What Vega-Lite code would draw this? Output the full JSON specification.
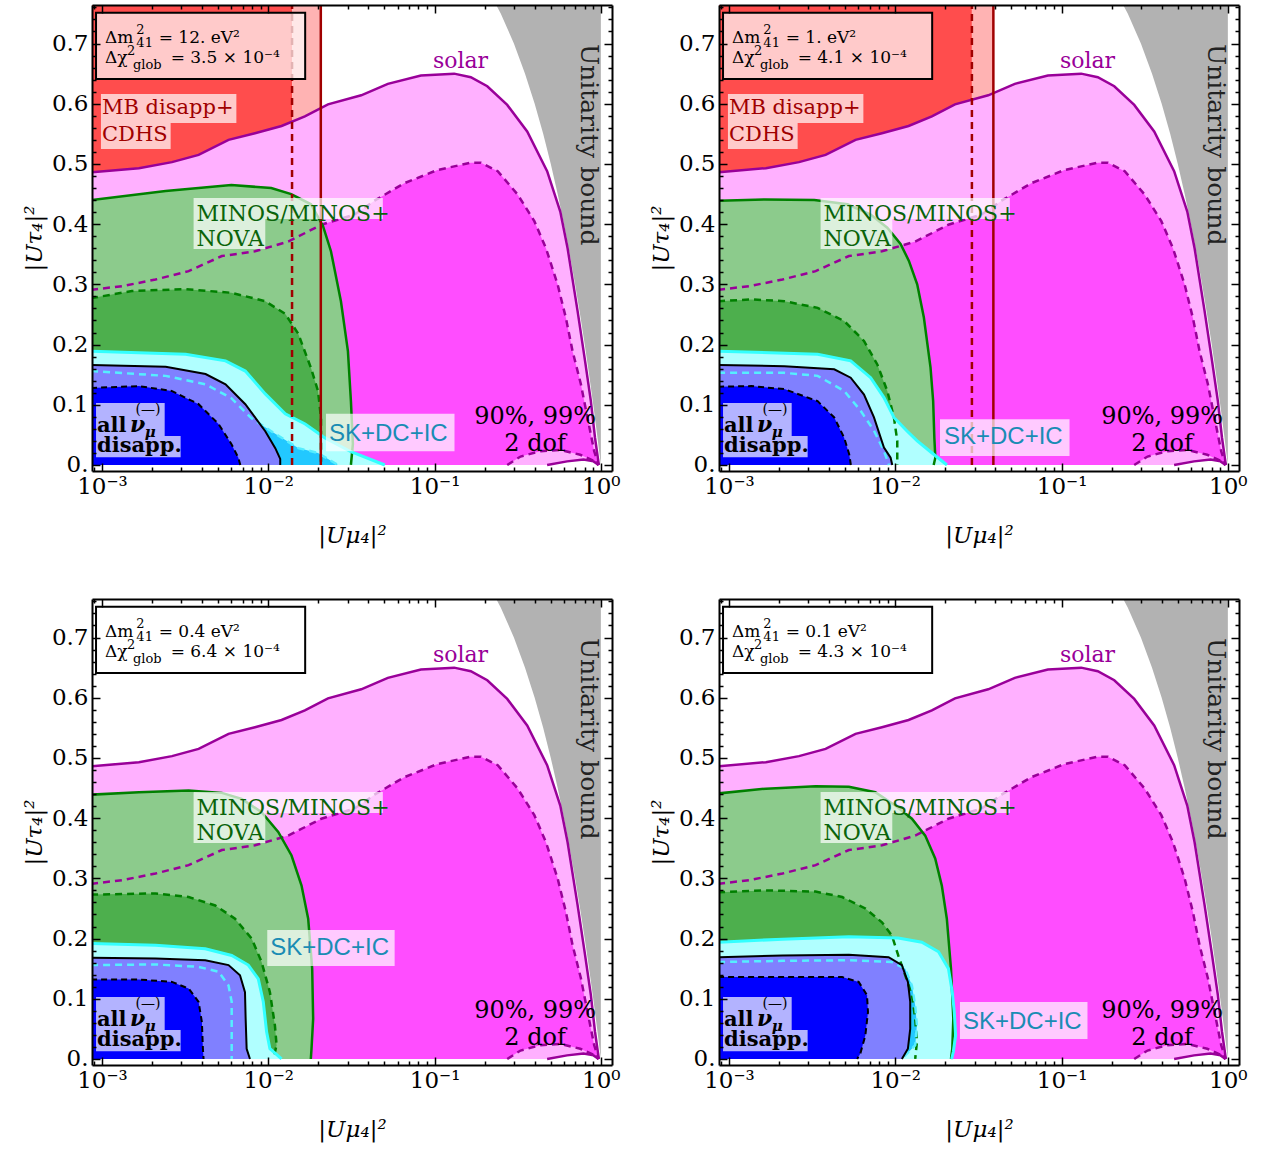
{
"$schema":"https://vega.github.io/schema/vega-lite/v6.json",
"background":"white",
"padding":{"left":23,"top":-5,"right":5,"bottom":5},
"datasets":{"d":[
{"p":[1,2,3,4],"r":"un","x":1,"y":0},{"p":[1,2,3,4],"r":"un","x":0.95,"y":0.05},{"p":[1,2,3,4],"r":"un","x":0.9,"y":0.1},{"p":[1,2,3,4],"r":"un","x":0.85,"y":0.15},{"p":[1,2,3,4],"r":"un","x":0.8,"y":0.2},{"p":[1,2,3,4],"r":"un","x":0.75,"y":0.25},{"p":[1,2,3,4],"r":"un","x":0.7,"y":0.3},{"p":[1,2,3,4],"r":"un","x":0.65,"y":0.35},{"p":[1,2,3,4],"r":"un","x":0.6,"y":0.4},{"p":[1,2,3,4],"r":"un","x":0.55,"y":0.45},{"p":[1,2,3,4],"r":"un","x":0.5,"y":0.5},{"p":[1,2,3,4],"r":"un","x":0.45,"y":0.55},{"p":[1,2,3,4],"r":"un","x":0.4,"y":0.6},{"p":[1,2,3,4],"r":"un","x":0.35,"y":0.65},{"p":[1,2,3,4],"r":"un","x":0.3,"y":0.7},{"p":[1,2,3,4],"r":"un","x":0.25,"y":0.75},{"p":[1,2,3,4],"r":"un","x":0.2,"y":0.8},{"p":[1,2,3,4],"r":"un","x":1,"y":0.8},
{"p":[1,2,3,4],"r":"s99","x":0.00086,"y":0.486},{"p":[1,2,3,4],"r":"s99","x":0.001667,"y":0.493},{"p":[1,2,3,4],"r":"s99","x":0.002636,"y":0.503},{"p":[1,2,3,4],"r":"s99","x":0.003811,"y":0.515},{"p":[1,2,3,4],"r":"s99","x":0.005768,"y":0.54},{"p":[1,2,3,4],"r":"s99","x":0.008318,"y":0.551},{"p":[1,2,3,4],"r":"s99","x":0.01202,"y":0.563},{"p":[1,2,3,4],"r":"s99","x":0.0166,"y":0.579},{"p":[1,2,3,4],"r":"s99","x":0.02286,"y":0.599},{"p":[1,2,3,4],"r":"s99","x":0.03622,"y":0.614},{"p":[1,2,3,4],"r":"s99","x":0.05236,"y":0.633},{"p":[1,2,3,4],"r":"s99","x":0.08279,"y":0.647},{"p":[1,2,3,4],"r":"s99","x":0.1312,"y":0.65},{"p":[1,2,3,4],"r":"s99","x":0.1652,"y":0.644},{"p":[1,2,3,4],"r":"s99","x":0.2075,"y":0.629},{"p":[1,2,3,4],"r":"s99","x":0.2735,"y":0.598},{"p":[1,2,3,4],"r":"s99","x":0.3606,"y":0.554},{"p":[1,2,3,4],"r":"s99","x":0.4753,"y":0.488},{"p":[1,2,3,4],"r":"s99","x":0.5702,"y":0.421},{"p":[1,2,3,4],"r":"s99","x":0.631,"y":0.36},{"p":[1,2,3,4],"r":"s99","x":0.7244,"y":0.256},{"p":[1,2,3,4],"r":"s99","x":0.8035,"y":0.173},{"p":[1,2,3,4],"r":"s99","x":0.871,"y":0.106},{"p":[1,2,3,4],"r":"s99","x":0.9226,"y":0.045},{"p":[1,2,3,4],"r":"s99","x":0.9727,"y":0},{"p":[1,2,3,4],"r":"s99","x":0.0008,"y":0},
{"p":[1,2,3,4],"r":"s90","x":0.00086,"y":0.291},{"p":[1,2,3,4],"r":"s90","x":0.001324,"y":0.297},{"p":[1,2,3,4],"r":"s90","x":0.002099,"y":0.308},{"p":[1,2,3,4],"r":"s90","x":0.003319,"y":0.322},{"p":[1,2,3,4],"r":"s90","x":0.00526,"y":0.347},{"p":[1,2,3,4],"r":"s90","x":0.008318,"y":0.355},{"p":[1,2,3,4],"r":"s90","x":0.01318,"y":0.371},{"p":[1,2,3,4],"r":"s90","x":0.02084,"y":0.399},{"p":[1,2,3,4],"r":"s90","x":0.03304,"y":0.416},{"p":[1,2,3,4],"r":"s90","x":0.04355,"y":0.439},{"p":[1,2,3,4],"r":"s90","x":0.06577,"y":0.468},{"p":[1,2,3,4],"r":"s90","x":0.1042,"y":0.49},{"p":[1,2,3,4],"r":"s90","x":0.1652,"y":0.502},{"p":[1,2,3,4],"r":"s90","x":0.1897,"y":0.502},{"p":[1,2,3,4],"r":"s90","x":0.2399,"y":0.488},{"p":[1,2,3,4],"r":"s90","x":0.3162,"y":0.449},{"p":[1,2,3,4],"r":"s90","x":0.3981,"y":0.405},{"p":[1,2,3,4],"r":"s90","x":0.4677,"y":0.36},{"p":[1,2,3,4],"r":"s90","x":0.5495,"y":0.3},{"p":[1,2,3,4],"r":"s90","x":0.6166,"y":0.244},{"p":[1,2,3,4],"r":"s90","x":0.6761,"y":0.189},{"p":[1,2,3,4],"r":"s90","x":0.7586,"y":0.134},{"p":[1,2,3,4],"r":"s90","x":0.8318,"y":0.078},{"p":[1,2,3,4],"r":"s90","x":0.912,"y":0.023},{"p":[1,2,3,4],"r":"s90","x":0.97,"y":0},{"p":[1,2,3,4],"r":"s90","x":0.0008,"y":0},
{"p":[1,2,3,4],"r":"a90","x":0.2735,"y":0},{"p":[1,2,3,4],"r":"a90","x":0.3289,"y":0.014},{"p":[1,2,3,4],"r":"a90","x":0.4335,"y":0.023},{"p":[1,2,3,4],"r":"a90","x":0.5702,"y":0.025},{"p":[1,2,3,4],"r":"a90","x":0.7516,"y":0.017},{"p":[1,2,3,4],"r":"a90","x":0.9036,"y":0.007},{"p":[1,2,3,4],"r":"a90","x":0.97,"y":0},
{"p":[1,2,3,4],"r":"a99","x":0.4753,"y":0},{"p":[1,2,3,4],"r":"a99","x":0.6266,"y":0.006},{"p":[1,2,3,4],"r":"a99","x":0.787,"y":0.009},{"p":[1,2,3,4],"r":"a99","x":0.9036,"y":0.006},{"p":[1,2,3,4],"r":"a99","x":0.97,"y":0},
{"p":[1,2,3,4],"r":"bg","x":0.003556,"x2":0.04887,"y":0.4086,"y2":0.4435},
{"p":[1,2,3,4],"r":"bg","x":0.003556,"x2":0.009596,"y":0.3588,"y2":0.4086},
{"p":[1,2,3,4],"r":"bg","x":0.000921,"x2":0.002383,"y":0.048,"y2":0.103},
{"p":[1,2,3,4],"r":"bg","x":0.000921,"x2":0.002972,"y":0.013,"y2":0.048},
{"p":[1,2,3,4],"r":"box","x":0.000921,"x2":0.01667,"y":0.641,"y2":0.751},
{"p":[1,2,3,4],"r":"sol","t":"solar","x":0.1432,"y":0.659},
{"p":[1,2,3,4],"r":"uni","t":"Unitarity bound","x":0.847,"y":0.532},
{"p":[1,2,3,4],"r":"cl","t":"90%, 99%","x":0.4027,"y":0.068},
{"p":[1,2,3,4],"r":"cl","t":"2 dof","x":0.4027,"y":0.023},
{"p":[1,2,3,4],"r":"mn","t":"MINOS/MINOS+","x":0.003707,"y":0.405},
{"p":[1,2,3,4],"r":"mn","t":"NOVA","x":0.003707,"y":0.364},
{"p":[1,2,3,4],"r":"ab","t":"all","x":0.000933,"y":0.055},
{"p":[1,2,3,4],"r":"ab","t":"disapp.","x":0.000933,"y":0.022},
{"p":[1,2,3,4],"r":"nu","t":"ν","x":0.001472,"y":0.055},
{"p":[1,2,3,4],"r":"mu","t":"μ","x":0.001807,"y":0.047},
{"p":[1,2,3,4],"r":"br","t":"(—)","x":0.001893,"y":0.084},
{"p":[1,2,3,4],"r":"bx","t":"Δm","x":0.001042,"y":0.701},
{"p":[1,2,3,4],"r":"bx","t":"Δχ","x":0.001042,"y":0.668},
{"p":[1,2,3,4],"r":"bs","t":"2","x":0.00161,"y":0.716},
{"p":[1,2,3,4],"r":"bs","t":"41","x":0.00161,"y":0.694},
{"p":[1,2,3,4],"r":"bs","t":"2","x":0.001413,"y":0.681},
{"p":[1,2,3,4],"r":"bs","t":"glob","x":0.001535,"y":0.658},
{"p":[1,2],"r":"mb","t":"MB disapp+","x":0.001,"y":0.583},
{"p":[1,2],"r":"mb","t":"CDHS","x":0.001,"y":0.538},
{"p":[1,2],"r":"bg","x":0.000986,"x2":0.00643,"y":0.568,"y2":0.616},
{"p":[1,2],"r":"bg","x":0.000986,"x2":0.002588,"y":0.525,"y2":0.568},

{"p":[1],"r":"bx","t":"= 12. eV²","x":0.002193,"y":0.701},
{"p":[1],"r":"bx","t":"= 3.5 × 10⁻⁴","x":0.002588,"y":0.668},
{"p":[1],"r":"bg","x":0.02223,"x2":0.1318,"y":0.023,"y2":0.085},
{"p":[1],"r":"sk","t":"SK+DC+IC","x":0.02317,"y":0.04},
{"p":[1],"r":"rD","x":0.0008,"y":0},{"p":[1],"r":"rD","x":0.0008,"y":0.8},{"p":[1],"r":"rD","x":0.0139,"y":0.8},{"p":[1],"r":"rD","x":0.0139,"y":0},
{"p":[1],"r":"rL","x":0.0139,"y":0},{"p":[1],"r":"rL","x":0.0139,"y":0.8},{"p":[1],"r":"rL","x":0.0207,"y":0.8},{"p":[1],"r":"rL","x":0.0207,"y":0},
{"p":[1],"r":"rd","x":0.0139,"y":0},{"p":[1],"r":"rd","x":0.0139,"y":0.8},
{"p":[1],"r":"rs","x":0.0207,"y":0},{"p":[1],"r":"rs","x":0.0207,"y":0.8},
{"p":[1],"r":"m99","x":0.00086,"y":0.44},{"p":[1],"r":"m99","x":0.002415,"y":0.455},{"p":[1],"r":"m99","x":0.005998,"y":0.465},{"p":[1],"r":"m99","x":0.01042,"y":0.46},{"p":[1],"r":"m99","x":0.01374,"y":0.45},{"p":[1],"r":"m99","x":0.01807,"y":0.433},{"p":[1],"r":"m99","x":0.02133,"y":0.397},{"p":[1],"r":"m99","x":0.02382,"y":0.355},{"p":[1],"r":"m99","x":0.02735,"y":0.272},{"p":[1],"r":"m99","x":0.03013,"y":0.189},{"p":[1],"r":"m99","x":0.03141,"y":0.106},{"p":[1],"r":"m99","x":0.03228,"y":0.035},{"p":[1],"r":"m99","x":0.03141,"y":0},{"p":[1],"r":"m99","x":0.0008,"y":0},
{"p":[1],"r":"m90","x":0.00086,"y":0.277},{"p":[1],"r":"m90","x":0.001514,"y":0.289},{"p":[1],"r":"m90","x":0.003184,"y":0.292},{"p":[1],"r":"m90","x":0.005998,"y":0.286},{"p":[1],"r":"m90","x":0.009594,"y":0.272},{"p":[1],"r":"m90","x":0.01265,"y":0.251},{"p":[1],"r":"m90","x":0.01514,"y":0.218},{"p":[1],"r":"m90","x":0.01807,"y":0.161},{"p":[1],"r":"m90","x":0.01991,"y":0.123},{"p":[1],"r":"m90","x":0.02075,"y":0.078},{"p":[1],"r":"m90","x":0.02075,"y":0},{"p":[1],"r":"m90","x":0.0008,"y":0},
{"p":[1],"r":"k99","x":0.00086,"y":0.189},{"p":[1],"r":"k99","x":0.003184,"y":0.184},{"p":[1],"r":"k99","x":0.005534,"y":0.173},{"p":[1],"r":"k99","x":0.007278,"y":0.156},{"p":[1],"r":"k99","x":0.009594,"y":0.118},{"p":[1],"r":"k99","x":0.01265,"y":0.085},{"p":[1],"r":"k99","x":0.01667,"y":0.068},{"p":[1],"r":"k99","x":0.02193,"y":0.045},{"p":[1],"r":"k99","x":0.03141,"y":0.022},{"p":[1],"r":"k99","x":0.05023,"y":0},{"p":[1],"r":"k99","x":0.0008,"y":0},
{"p":[1],"r":"k90","x":0.00086,"y":0.156},{"p":[1],"r":"k90","x":0.002415,"y":0.148},{"p":[1],"r":"k90","x":0.004198,"y":0.134},{"p":[1],"r":"k90","x":0.005998,"y":0.111},{"p":[1],"r":"k90","x":0.007907,"y":0.078},{"p":[1],"r":"k90","x":0.01042,"y":0.056},{"p":[1],"r":"k90","x":0.01514,"y":0.028},{"p":[1],"r":"k90","x":0.01991,"y":0.02},{"p":[1],"r":"k90","x":0.02382,"y":0.007},{"p":[1],"r":"k90","x":0.02624,"y":0},{"p":[1],"r":"k90","x":0.0008,"y":0},
{"p":[1],"r":"d99","x":0.00086,"y":0.166},{"p":[1],"r":"d99","x":0.002415,"y":0.163},{"p":[1],"r":"d99","x":0.004198,"y":0.151},{"p":[1],"r":"d99","x":0.005534,"y":0.134},{"p":[1],"r":"d99","x":0.007278,"y":0.101},{"p":[1],"r":"d99","x":0.009594,"y":0.056},{"p":[1],"r":"d99","x":0.01102,"y":0.028},{"p":[1],"r":"d99","x":0.0118,"y":0.01},{"p":[1],"r":"d99","x":0.0118,"y":0},{"p":[1],"r":"d99","x":0.0008,"y":0},
{"p":[1],"r":"d90","x":0.00086,"y":0.128},{"p":[1],"r":"d90","x":0.001667,"y":0.131},{"p":[1],"r":"d90","x":0.002624,"y":0.123},{"p":[1],"r":"d90","x":0.003811,"y":0.101},{"p":[1],"r":"d90","x":0.005023,"y":0.068},{"p":[1],"r":"d90","x":0.005998,"y":0.035},{"p":[1],"r":"d90","x":0.006607,"y":0.012},{"p":[1],"r":"d90","x":0.006792,"y":0},{"p":[1],"r":"d90","x":0.0008,"y":0},

{"p":[2],"r":"bx","t":"= 1. eV²","x":0.002193,"y":0.701},
{"p":[2],"r":"bx","t":"= 4.1 × 10⁻⁴","x":0.002588,"y":0.668},
{"p":[2],"r":"bg","x":0.01858,"x2":0.1117,"y":0.015,"y2":0.076},
{"p":[2],"r":"sk","t":"SK+DC+IC","x":0.01963,"y":0.035},
{"p":[2],"r":"rD","x":0.0008,"y":0},{"p":[2],"r":"rD","x":0.0008,"y":0.8},{"p":[2],"r":"rD","x":0.0289,"y":0.8},{"p":[2],"r":"rD","x":0.0289,"y":0},
{"p":[2],"r":"rL","x":0.0289,"y":0},{"p":[2],"r":"rL","x":0.0289,"y":0.8},{"p":[2],"r":"rL","x":0.0389,"y":0.8},{"p":[2],"r":"rL","x":0.0389,"y":0},
{"p":[2],"r":"rd","x":0.0289,"y":0},{"p":[2],"r":"rd","x":0.0289,"y":0.8},
{"p":[2],"r":"rs","x":0.0389,"y":0},{"p":[2],"r":"rs","x":0.0389,"y":0.8},
{"p":[2],"r":"m99","x":0.00086,"y":0.439},{"p":[2],"r":"m99","x":0.001637,"y":0.441},{"p":[2],"r":"m99","x":0.003258,"y":0.44},{"p":[2],"r":"m99","x":0.005164,"y":0.433},{"p":[2],"r":"m99","x":0.007112,"y":0.416},{"p":[2],"r":"m99","x":0.008954,"y":0.394},{"p":[2],"r":"m99","x":0.01076,"y":0.367},{"p":[2],"r":"m99","x":0.01208,"y":0.339},{"p":[2],"r":"m99","x":0.01355,"y":0.3},{"p":[2],"r":"m99","x":0.01486,"y":0.245},{"p":[2],"r":"m99","x":0.01629,"y":0.162},{"p":[2],"r":"m99","x":0.0169,"y":0.106},{"p":[2],"r":"m99","x":0.01718,"y":0.045},{"p":[2],"r":"m99","x":0.01742,"y":0.012},{"p":[2],"r":"m99","x":0.01702,"y":0},{"p":[2],"r":"m99","x":0.0008,"y":0},
{"p":[2],"r":"m90","x":0.00086,"y":0.272},{"p":[2],"r":"m90","x":0.001361,"y":0.275},{"p":[2],"r":"m90","x":0.002153,"y":0.272},{"p":[2],"r":"m90","x":0.003412,"y":0.261},{"p":[2],"r":"m90","x":0.004932,"y":0.239},{"p":[2],"r":"m90","x":0.006486,"y":0.206},{"p":[2],"r":"m90","x":0.007798,"y":0.167},{"p":[2],"r":"m90","x":0.008954,"y":0.123},{"p":[2],"r":"m90","x":0.009817,"y":0.079},{"p":[2],"r":"m90","x":0.01028,"y":0.04},{"p":[2],"r":"m90","x":0.01028,"y":0},{"p":[2],"r":"m90","x":0.0008,"y":0},
{"p":[2],"r":"k99","x":0.00086,"y":0.189},{"p":[2],"r":"k99","x":0.003412,"y":0.184},{"p":[2],"r":"k99","x":0.005395,"y":0.173},{"p":[2],"r":"k99","x":0.007112,"y":0.145},{"p":[2],"r":"k99","x":0.008551,"y":0.112},{"p":[2],"r":"k99","x":0.009817,"y":0.079},{"p":[2],"r":"k99","x":0.0118,"y":0.056},{"p":[2],"r":"k99","x":0.01355,"y":0.04},{"p":[2],"r":"k99","x":0.01629,"y":0.022},{"p":[2],"r":"k99","x":0.02046,"y":0},{"p":[2],"r":"k99","x":0.0008,"y":0},
{"p":[2],"r":"k90","x":0.00086,"y":0.153},{"p":[2],"r":"k90","x":0.002153,"y":0.153},{"p":[2],"r":"k90","x":0.003412,"y":0.148},{"p":[2],"r":"k90","x":0.004932,"y":0.123},{"p":[2],"r":"k90","x":0.006194,"y":0.09},{"p":[2],"r":"k90","x":0.007447,"y":0.057},{"p":[2],"r":"k90","x":0.008551,"y":0.023},{"p":[2],"r":"k90","x":0.009162,"y":0},{"p":[2],"r":"k90","x":0.0008,"y":0},
{"p":[2],"r":"d99","x":0.00086,"y":0.166},{"p":[2],"r":"d99","x":0.002153,"y":0.164},{"p":[2],"r":"d99","x":0.004295,"y":0.159},{"p":[2],"r":"d99","x":0.005395,"y":0.145},{"p":[2],"r":"d99","x":0.006486,"y":0.117},{"p":[2],"r":"d99","x":0.007447,"y":0.079},{"p":[2],"r":"d99","x":0.008551,"y":0.029},{"p":[2],"r":"d99","x":0.009376,"y":0.012},{"p":[2],"r":"d99","x":0.009594,"y":0},{"p":[2],"r":"d99","x":0.0008,"y":0},
{"p":[2],"r":"d90","x":0.00086,"y":0.13},{"p":[2],"r":"d90","x":0.001361,"y":0.131},{"p":[2],"r":"d90","x":0.002153,"y":0.126},{"p":[2],"r":"d90","x":0.003412,"y":0.106},{"p":[2],"r":"d90","x":0.004295,"y":0.079},{"p":[2],"r":"d90","x":0.004932,"y":0.045},{"p":[2],"r":"d90","x":0.005284,"y":0.018},{"p":[2],"r":"d90","x":0.005408,"y":0},{"p":[2],"r":"d90","x":0.0008,"y":0},

{"p":[3],"r":"bx","t":"= 0.4 eV²","x":0.002193,"y":0.701},
{"p":[3],"r":"bx","t":"= 6.4 × 10⁻⁴","x":0.002588,"y":0.668},
{"p":[3],"r":"bg","x":0.00986,"x2":0.05754,"y":0.1545,"y2":0.2143},
{"p":[3],"r":"sk","t":"SK+DC+IC","x":0.01028,"y":0.173},
{"p":[3],"r":"m99","x":0.00086,"y":0.439},{"p":[3],"r":"m99","x":0.001667,"y":0.443},{"p":[3],"r":"m99","x":0.003319,"y":0.446},{"p":[3],"r":"m99","x":0.00526,"y":0.442},{"p":[3],"r":"m99","x":0.006918,"y":0.432},{"p":[3],"r":"m99","x":0.00912,"y":0.41},{"p":[3],"r":"m99","x":0.01148,"y":0.377},{"p":[3],"r":"m99","x":0.0138,"y":0.338},{"p":[3],"r":"m99","x":0.01585,"y":0.288},{"p":[3],"r":"m99","x":0.01738,"y":0.233},{"p":[3],"r":"m99","x":0.01837,"y":0.15},{"p":[3],"r":"m99","x":0.01862,"y":0.067},{"p":[3],"r":"m99","x":0.0182,"y":0.017},{"p":[3],"r":"m99","x":0.01803,"y":0},{"p":[3],"r":"m99","x":0.0008,"y":0},
{"p":[3],"r":"m90","x":0.00086,"y":0.273},{"p":[3],"r":"m90","x":0.001324,"y":0.274},{"p":[3],"r":"m90","x":0.002099,"y":0.275},{"p":[3],"r":"m90","x":0.003319,"y":0.269},{"p":[3],"r":"m90","x":0.004797,"y":0.255},{"p":[3],"r":"m90","x":0.00631,"y":0.233},{"p":[3],"r":"m90","x":0.007943,"y":0.2},{"p":[3],"r":"m90","x":0.00912,"y":0.161},{"p":[3],"r":"m90","x":0.01023,"y":0.111},{"p":[3],"r":"m90","x":0.01096,"y":0.056},{"p":[3],"r":"m90","x":0.01122,"y":0.023},{"p":[3],"r":"m90","x":0.01072,"y":0},{"p":[3],"r":"m90","x":0.0008,"y":0},
{"p":[3],"r":"k99","x":0.00086,"y":0.192},{"p":[3],"r":"k99","x":0.002099,"y":0.189},{"p":[3],"r":"k99","x":0.004178,"y":0.183},{"p":[3],"r":"k99","x":0.006026,"y":0.172},{"p":[3],"r":"k99","x":0.007586,"y":0.156},{"p":[3],"r":"k99","x":0.00871,"y":0.133},{"p":[3],"r":"k99","x":0.009333,"y":0.095},{"p":[3],"r":"k99","x":0.009772,"y":0.045},{"p":[3],"r":"k99","x":0.01023,"y":0.017},{"p":[3],"r":"k99","x":0.01202,"y":0},{"p":[3],"r":"k99","x":0.0008,"y":0},
{"p":[3],"r":"k90","x":0.00086,"y":0.156},{"p":[3],"r":"k90","x":0.002099,"y":0.157},{"p":[3],"r":"k90","x":0.003811,"y":0.153},{"p":[3],"r":"k90","x":0.005023,"y":0.145},{"p":[3],"r":"k90","x":0.005768,"y":0.122},{"p":[3],"r":"k90","x":0.006026,"y":0.095},{"p":[3],"r":"k90","x":0.006026,"y":0.039},{"p":[3],"r":"k90","x":0.006026,"y":0},{"p":[3],"r":"k90","x":0.0008,"y":0},
{"p":[3],"r":"d99","x":0.00086,"y":0.168},{"p":[3],"r":"d99","x":0.002099,"y":0.167},{"p":[3],"r":"d99","x":0.004178,"y":0.164},{"p":[3],"r":"d99","x":0.005768,"y":0.156},{"p":[3],"r":"d99","x":0.006761,"y":0.139},{"p":[3],"r":"d99","x":0.007244,"y":0.111},{"p":[3],"r":"d99","x":0.007311,"y":0.067},{"p":[3],"r":"d99","x":0.007413,"y":0.017},{"p":[3],"r":"d99","x":0.007762,"y":0},{"p":[3],"r":"d99","x":0.0008,"y":0},
{"p":[3],"r":"d90","x":0.00086,"y":0.132},{"p":[3],"r":"d90","x":0.001667,"y":0.132},{"p":[3],"r":"d90","x":0.002636,"y":0.128},{"p":[3],"r":"d90","x":0.003319,"y":0.117},{"p":[3],"r":"d90","x":0.003811,"y":0.095},{"p":[3],"r":"d90","x":0.00399,"y":0.061},{"p":[3],"r":"d90","x":0.004046,"y":0.017},{"p":[3],"r":"d90","x":0.004083,"y":0},{"p":[3],"r":"d90","x":0.0008,"y":0},

{"p":[4],"r":"bx","t":"= 0.1 eV²","x":0.002193,"y":0.701},
{"p":[4],"r":"bx","t":"= 4.3 × 10⁻⁴","x":0.002588,"y":0.668},
{"p":[4],"r":"bg","x":0.02449,"x2":0.1432,"y":0.0332,"y2":0.0947},
{"p":[4],"r":"sk","t":"SK+DC+IC","x":0.02553,"y":0.05},
{"p":[4],"r":"m99","x":0.00086,"y":0.441},{"p":[4],"r":"m99","x":0.001667,"y":0.449},{"p":[4],"r":"m99","x":0.003319,"y":0.453},{"p":[4],"r":"m99","x":0.00526,"y":0.452},{"p":[4],"r":"m99","x":0.007586,"y":0.443},{"p":[4],"r":"m99","x":0.01,"y":0.421},{"p":[4],"r":"m99","x":0.01259,"y":0.399},{"p":[4],"r":"m99","x":0.01514,"y":0.371},{"p":[4],"r":"m99","x":0.01738,"y":0.333},{"p":[4],"r":"m99","x":0.01905,"y":0.288},{"p":[4],"r":"m99","x":0.02042,"y":0.233},{"p":[4],"r":"m99","x":0.02163,"y":0.15},{"p":[4],"r":"m99","x":0.02234,"y":0.067},{"p":[4],"r":"m99","x":0.02203,"y":0.017},{"p":[4],"r":"m99","x":0.02163,"y":0},{"p":[4],"r":"m99","x":0.0008,"y":0},
{"p":[4],"r":"m90","x":0.00086,"y":0.277},{"p":[4],"r":"m90","x":0.001667,"y":0.28},{"p":[4],"r":"m90","x":0.003319,"y":0.278},{"p":[4],"r":"m90","x":0.004797,"y":0.269},{"p":[4],"r":"m90","x":0.006607,"y":0.25},{"p":[4],"r":"m90","x":0.008318,"y":0.227},{"p":[4],"r":"m90","x":0.00955,"y":0.205},{"p":[4],"r":"m90","x":0.01042,"y":0.172},{"p":[4],"r":"m90","x":0.01148,"y":0.139},{"p":[4],"r":"m90","x":0.01259,"y":0.106},{"p":[4],"r":"m90","x":0.01318,"y":0.067},{"p":[4],"r":"m90","x":0.01349,"y":0.028},{"p":[4],"r":"m90","x":0.01318,"y":0},{"p":[4],"r":"m90","x":0.0008,"y":0},
{"p":[4],"r":"k99","x":0.00086,"y":0.194},{"p":[4],"r":"k99","x":0.002099,"y":0.199},{"p":[4],"r":"k99","x":0.00526,"y":0.203},{"p":[4],"r":"k99","x":0.01042,"y":0.201},{"p":[4],"r":"k99","x":0.01445,"y":0.194},{"p":[4],"r":"k99","x":0.0182,"y":0.178},{"p":[4],"r":"k99","x":0.02089,"y":0.15},{"p":[4],"r":"k99","x":0.02203,"y":0.111},{"p":[4],"r":"k99","x":0.02265,"y":0.078},{"p":[4],"r":"k99","x":0.02307,"y":0.039},{"p":[4],"r":"k99","x":0.02234,"y":0.012},{"p":[4],"r":"k99","x":0.02183,"y":0},{"p":[4],"r":"k99","x":0.0008,"y":0},
{"p":[4],"r":"k90","x":0.00086,"y":0.161},{"p":[4],"r":"k90","x":0.002099,"y":0.163},{"p":[4],"r":"k90","x":0.00526,"y":0.164},{"p":[4],"r":"k90","x":0.00955,"y":0.161},{"p":[4],"r":"k90","x":0.01148,"y":0.15},{"p":[4],"r":"k90","x":0.01259,"y":0.122},{"p":[4],"r":"k90","x":0.01318,"y":0.089},{"p":[4],"r":"k90","x":0.01349,"y":0.056},{"p":[4],"r":"k90","x":0.01318,"y":0.023},{"p":[4],"r":"k90","x":0.01096,"y":0},{"p":[4],"r":"k90","x":0.0008,"y":0},
{"p":[4],"r":"d99","x":0.00086,"y":0.169},{"p":[4],"r":"d99","x":0.002099,"y":0.172},{"p":[4],"r":"d99","x":0.00526,"y":0.173},{"p":[4],"r":"d99","x":0.00912,"y":0.169},{"p":[4],"r":"d99","x":0.01096,"y":0.156},{"p":[4],"r":"d99","x":0.01191,"y":0.128},{"p":[4],"r":"d99","x":0.0123,"y":0.095},{"p":[4],"r":"d99","x":0.0123,"y":0.05},{"p":[4],"r":"d99","x":0.01191,"y":0.017},{"p":[4],"r":"d99","x":0.01096,"y":0},{"p":[4],"r":"d99","x":0.0008,"y":0},
{"p":[4],"r":"d90","x":0.00086,"y":0.136},{"p":[4],"r":"d90","x":0.002099,"y":0.136},{"p":[4],"r":"d90","x":0.004797,"y":0.136},{"p":[4],"r":"d90","x":0.006026,"y":0.128},{"p":[4],"r":"d90","x":0.006761,"y":0.106},{"p":[4],"r":"d90","x":0.006855,"y":0.078},{"p":[4],"r":"d90","x":0.006607,"y":0.039},{"p":[4],"r":"d90","x":0.006166,"y":0.009},{"p":[4],"r":"d90","x":0.005902,"y":0},{"p":[4],"r":"d90","x":0.0008,"y":0}
]},
"data":{"name":"d"},
"transform":[{"flatten":["p"]}],
"facet":{"field":"p","type":"ordinal","header":{"title":null,"labels":false,"labelExpr":"''","labelFontSize":1,"labelPadding":0}},
"columns":2,
"spacing":{"row":128,"column":107},
"bounds":"flush",
"resolve":{"axis":{"x":"independent","y":"independent"}},
"spec":{
"width":520,"height":466,
"encoding":{
"x":{"field":"x","type":"quantitative","scale":{"type":"log","domain":[0.000871,1.167],"nice":false},"axis":null},
"y":{"field":"y","type":"quantitative","scale":{"domain":[-0.01,0.764],"nice":false,"zero":false},"axis":null}
},
"layer":[
{"transform":[{"filter":"datum.r=='rD'"}],"mark":{"type":"line","fill":"#FF4D4D","strokeWidth":0,"clip":true},"encoding":{"order":{"value":null}}},
{"transform":[{"filter":"datum.r=='rL'"}],"mark":{"type":"line","fill":"#FFB3B3","strokeWidth":0,"clip":true},"encoding":{"order":{"value":null}}},
{"transform":[{"filter":"datum.r=='un'"}],"mark":{"type":"line","fill":"#B2B2B2","strokeWidth":0,"clip":true},"encoding":{"order":{"value":null},
"x":{"field":"x","type":"quantitative","scale":{"type":"log","domain":[0.000871,1.167],"nice":false},"axis":{"orient":"bottom","values":[0.0009,0.001,0.002,0.003,0.004,0.005,0.006,0.007,0.008,0.009,0.01,0.02,0.03,0.04,0.05,0.06,0.07,0.08,0.09,0.1,0.2,0.3,0.4,0.5,0.6,0.7,0.8,0.9,1],"labelExpr":"datum.value==0.001?'10⁻³':datum.value==0.01?'10⁻²':datum.value==0.1?'10⁻¹':datum.value==1?'10⁰':''","labelOverlap":false,"labelFlush":false,"labelBound":false,"labelFont":"DejaVu Serif","labelFontSize":23,"labelColor":"black","labelPadding":12,"tickSize":{"condition":{"test":"datum.value==0.001||datum.value==0.01||datum.value==0.1||datum.value==1","value":-8},"value":-4},"tickColor":"black","tickWidth":1.5,"domainColor":"black","domainWidth":2,"grid":false,"title":"|Uμ₄|²","titleFont":"DejaVu Serif","titleFontSize":23,"titleFontStyle":"italic","titleFontWeight":"normal","titleColor":"black","titlePadding":22,"zindex":1}},
"y":{"field":"y","type":"quantitative","scale":{"domain":[-0.01,0.764],"nice":false,"zero":false},"axis":{"orient":"left","values":[0,0.02,0.04,0.06,0.08,0.1,0.12,0.14,0.16,0.18,0.2,0.22,0.24,0.26,0.28,0.3,0.32,0.34,0.36,0.38,0.4,0.42,0.44,0.46,0.48,0.5,0.52,0.54,0.56,0.58,0.6,0.62,0.64,0.66,0.68,0.7,0.72,0.74,0.76],"labelExpr":"datum.value==0?'0.':(abs(datum.value*10-round(datum.value*10))<0.001?format(datum.value,'.1f'):'')","labelOverlap":false,"labelFlush":false,"labelBound":false,"labelFont":"DejaVu Serif","labelFontSize":23,"labelColor":"black","labelPadding":12,"tickSize":{"condition":{"test":"abs(datum.value*10-round(datum.value*10))<0.001","value":-8},"value":-4},"tickColor":"black","tickWidth":1.5,"domainColor":"black","domainWidth":2,"grid":false,"title":"|Uτ₄|²","titleFont":"DejaVu Serif","titleFontSize":23,"titleFontStyle":"italic","titleFontWeight":"normal","titleColor":"black","titlePadding":5,"zindex":1}}}},
{"transform":[{"filter":"datum.r=='s99'"}],"mark":{"type":"line","fill":"#FFB0FF","strokeWidth":0,"clip":true},"encoding":{"order":{"value":null},
"x":{"field":"x","type":"quantitative","scale":{"type":"log","domain":[0.000871,1.167],"nice":false},"axis":{"orient":"top","values":[0.0009,0.001,0.002,0.003,0.004,0.005,0.006,0.007,0.008,0.009,0.01,0.02,0.03,0.04,0.05,0.06,0.07,0.08,0.09,0.1,0.2,0.3,0.4,0.5,0.6,0.7,0.8,0.9,1],"labels":false,"title":null,"tickSize":{"condition":{"test":"datum.value==0.001||datum.value==0.01||datum.value==0.1||datum.value==1","value":-8},"value":-4},"tickColor":"black","tickWidth":1.5,"domainColor":"black","domainWidth":2,"grid":false,"zindex":1}},
"y":{"field":"y","type":"quantitative","scale":{"domain":[-0.01,0.764],"nice":false,"zero":false},"axis":{"orient":"right","values":[0,0.02,0.04,0.06,0.08,0.1,0.12,0.14,0.16,0.18,0.2,0.22,0.24,0.26,0.28,0.3,0.32,0.34,0.36,0.38,0.4,0.42,0.44,0.46,0.48,0.5,0.52,0.54,0.56,0.58,0.6,0.62,0.64,0.66,0.68,0.7,0.72,0.74,0.76],"labels":false,"title":null,"tickSize":{"condition":{"test":"abs(datum.value*10-round(datum.value*10))<0.001","value":-8},"value":-4},"tickColor":"black","tickWidth":1.5,"domainColor":"black","domainWidth":2,"grid":false,"zindex":1}}}},
{"transform":[{"filter":"datum.r=='s90'"}],"mark":{"type":"line","fill":"#FF4DFF","strokeWidth":0,"clip":true},"encoding":{"order":{"value":null}}},
{"transform":[{"filter":"datum.r=='a90'"}],"mark":{"type":"line","fill":"#FFB0FF","strokeWidth":0,"clip":true},"encoding":{"order":{"value":null}}},
{"transform":[{"filter":"datum.r=='a99'"}],"mark":{"type":"line","fill":"#FFFFFF","strokeWidth":0,"clip":true},"encoding":{"order":{"value":null}}},
{"transform":[{"filter":"datum.r=='m99'"}],"mark":{"type":"line","fill":"#8CCB8C","strokeWidth":0,"clip":true},"encoding":{"order":{"value":null}}},
{"transform":[{"filter":"datum.r=='m90'"}],"mark":{"type":"line","fill":"#4DAF4D","strokeWidth":0,"clip":true},"encoding":{"order":{"value":null}}},
{"transform":[{"filter":"datum.r=='k99'"}],"mark":{"type":"line","fill":"#B0FFFF","strokeWidth":0,"clip":true},"encoding":{"order":{"value":null}}},
{"transform":[{"filter":"datum.r=='k90'"}],"mark":{"type":"line","fill":"#22C8FF","strokeWidth":0,"clip":true},"encoding":{"order":{"value":null}}},
{"transform":[{"filter":"datum.r=='d99'"}],"mark":{"type":"line","fill":"#8080FF","strokeWidth":0,"clip":true},"encoding":{"order":{"value":null}}},
{"transform":[{"filter":"datum.r=='d90'"}],"mark":{"type":"line","fill":"#0000FF","strokeWidth":0,"clip":true},"encoding":{"order":{"value":null}}},
{"transform":[{"filter":"datum.r=='s99' && datum.x>0.00085"}],"mark":{"type":"line","stroke":"#990099","strokeWidth":2.5,"clip":true},"encoding":{"order":{"value":null}}},
{"transform":[{"filter":"datum.r=='s90' && datum.x>0.00085"}],"mark":{"type":"line","stroke":"#990099","strokeWidth":2.5,"strokeDash":[7,5],"clip":true},"encoding":{"order":{"value":null}}},
{"transform":[{"filter":"datum.r=='a90'"}],"mark":{"type":"line","stroke":"#990099","strokeWidth":2.5,"strokeDash":[7,5],"clip":true},"encoding":{"order":{"value":null}}},
{"transform":[{"filter":"datum.r=='a99'"}],"mark":{"type":"line","stroke":"#990099","strokeWidth":2.5,"clip":true},"encoding":{"order":{"value":null}}},
{"transform":[{"filter":"datum.r=='m99' && datum.x>0.00085"}],"mark":{"type":"line","stroke":"#008000","strokeWidth":2.5,"clip":true},"encoding":{"order":{"value":null}}},
{"transform":[{"filter":"datum.r=='m90' && datum.x>0.00085"}],"mark":{"type":"line","stroke":"#008000","strokeWidth":2.5,"strokeDash":[7,5],"clip":true},"encoding":{"order":{"value":null}}},
{"transform":[{"filter":"datum.r=='k99' && datum.x>0.00085"}],"mark":{"type":"line","stroke":"#33FFFF","strokeWidth":3,"clip":true},"encoding":{"order":{"value":null}}},
{"transform":[{"filter":"datum.r=='k90' && datum.x>0.00085"}],"mark":{"type":"line","stroke":"#55EEFF","strokeWidth":2.5,"strokeDash":[7,5],"clip":true},"encoding":{"order":{"value":null}}},
{"transform":[{"filter":"datum.r=='d99' && datum.x>0.00085"}],"mark":{"type":"line","stroke":"black","strokeWidth":2,"clip":true},"encoding":{"order":{"value":null}}},
{"transform":[{"filter":"datum.r=='d90' && datum.x>0.00085"}],"mark":{"type":"line","stroke":"black","strokeWidth":2,"strokeDash":[6,4],"clip":true},"encoding":{"order":{"value":null}}},
{"transform":[{"filter":"datum.r=='rd'"}],"mark":{"type":"line","stroke":"#A00000","strokeWidth":2.5,"strokeDash":[7,5],"clip":true},"encoding":{"order":{"value":null}}},
{"transform":[{"filter":"datum.r=='rs'"}],"mark":{"type":"line","stroke":"#A00000","strokeWidth":2.5,"clip":true},"encoding":{"order":{"value":null}}},
{"transform":[{"filter":"datum.r=='bg'"}],"mark":{"type":"rect","fill":"white","fillOpacity":0.7,"strokeWidth":0},"encoding":{"x2":{"field":"x2"},"y2":{"field":"y2"}}},
{"transform":[{"filter":"datum.r=='box'"}],"mark":{"type":"rect","fill":"white","fillOpacity":0.7,"stroke":"black","strokeWidth":2},"encoding":{"x2":{"field":"x2"},"y2":{"field":"y2"}}},
{"transform":[{"filter":"datum.r=='sol'"}],"mark":{"type":"text","align":"center","baseline":"alphabetic","font":"DejaVu Serif","fontSize":22,"color":"#990099"},"encoding":{"text":{"field":"t"}}},
{"transform":[{"filter":"datum.r=='uni'"}],"mark":{"type":"text","align":"center","baseline":"middle","angle":90,"font":"DejaVu Serif","fontSize":25,"color":"#222222"},"encoding":{"text":{"field":"t"}}},
{"transform":[{"filter":"datum.r=='cl'"}],"mark":{"type":"text","align":"center","baseline":"alphabetic","font":"DejaVu Serif","fontSize":24,"color":"black"},"encoding":{"text":{"field":"t"}}},
{"transform":[{"filter":"datum.r=='mn'"}],"mark":{"type":"text","align":"left","baseline":"alphabetic","font":"DejaVu Serif","fontSize":22,"color":"#0A640A"},"encoding":{"text":{"field":"t"}}},
{"transform":[{"filter":"datum.r=='mb'"}],"mark":{"type":"text","align":"left","baseline":"alphabetic","font":"DejaVu Serif","fontSize":21,"color":"#A00000"},"encoding":{"text":{"field":"t"}}},
{"transform":[{"filter":"datum.r=='sk'"}],"mark":{"type":"text","align":"left","baseline":"alphabetic","font":"Liberation Sans","fontSize":24,"color":"#1A8CB4"},"encoding":{"text":{"field":"t"}}},
{"transform":[{"filter":"datum.r=='ab'"}],"mark":{"type":"text","align":"left","baseline":"alphabetic","font":"DejaVu Serif","fontSize":21,"fontWeight":"bold","color":"black"},"encoding":{"text":{"field":"t"}}},
{"transform":[{"filter":"datum.r=='nu'"}],"mark":{"type":"text","align":"left","baseline":"alphabetic","font":"DejaVu Serif","fontSize":22,"fontWeight":"bold","fontStyle":"italic","color":"black"},"encoding":{"text":{"field":"t"}}},
{"transform":[{"filter":"datum.r=='mu'"}],"mark":{"type":"text","align":"left","baseline":"alphabetic","font":"DejaVu Serif","fontSize":15,"fontWeight":"bold","fontStyle":"italic","color":"black"},"encoding":{"text":{"field":"t"}}},
{"transform":[{"filter":"datum.r=='br'"}],"mark":{"type":"text","align":"center","baseline":"alphabetic","font":"DejaVu Serif","fontSize":14,"color":"black"},"encoding":{"text":{"field":"t"}}},
{"transform":[{"filter":"datum.r=='bx'"}],"mark":{"type":"text","align":"left","baseline":"alphabetic","font":"DejaVu Serif","fontSize":17,"color":"black"},"encoding":{"text":{"field":"t"}}},
{"transform":[{"filter":"datum.r=='bs'"}],"mark":{"type":"text","align":"left","baseline":"alphabetic","font":"DejaVu Serif","fontSize":13,"color":"black"},"encoding":{"text":{"field":"t"}}}
],
"resolve":{"axis":{"x":"independent","y":"independent"}}
},
"config":{"view":{"stroke":null},"font":"DejaVu Serif"}
}
